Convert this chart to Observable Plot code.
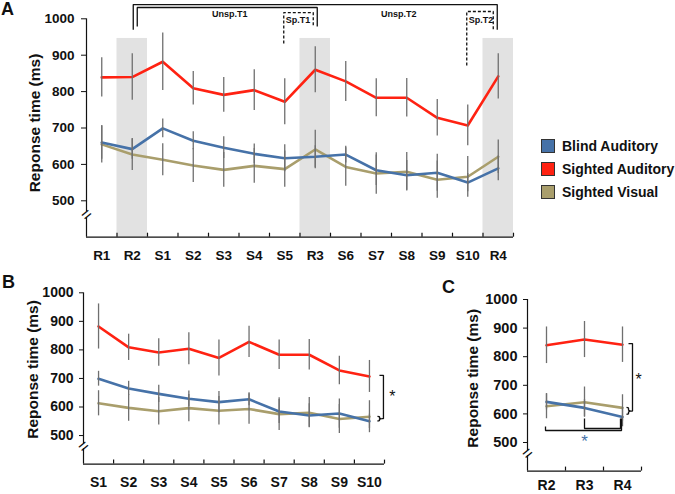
<!DOCTYPE html>
<html><head><meta charset="utf-8">
<script src="https://cdn.jsdelivr.net/npm/d3@7"></script>
<script src="https://cdn.jsdelivr.net/npm/@observablehq/plot@0.6"></script>
<style>
body{margin:0;background:#fff;font-family:"Liberation Sans",Arial,sans-serif;}
#root{position:relative;width:675px;height:494px;overflow:hidden;background:#fff;}
.panel{position:absolute;}
.letter{position:absolute;font-size:18px;line-height:18px;font-weight:bold;color:#111;}
#legend{position:absolute;left:541px;top:139px;}
.item{display:flex;align-items:center;height:14px;margin-bottom:9px;font-size:14px;font-weight:bold;color:#111;white-space:nowrap;}
.sw{width:12px;height:12px;border:1px solid #333;margin-right:7px;}
</style></head><body><div id="root"></div>
<script>
// ---------- data ----------
const conditions = ["R1","R2","S1","S2","S3","S4","S5","R3","S6","S7","S8","S9","S10","R4"];
const blindAuditory     = [660, 642, 699, 665, 646, 629, 617, 621, 627, 584, 570, 577, 550, 589];
const blindAuditorySE   = [ 46,  28,  26,  25,  30,  27,  37,  30,  23,  42,  41,  51,  25,  34];
const sightedAuditory   = [839, 840, 882, 809, 791, 804, 772, 860, 828, 783, 783, 728, 707, 842];
const sightedAuditorySE = [ 54,  64,  79,  46,  48,  56,  63,  63,  55,  52,  53,  50,  56,  62];
const sightedVisual     = [655, 627, 613, 597, 585, 596, 587, 641, 593, 575, 580, 558, 566, 621];
const sightedVisualSE   = [ 51,  44,  44,  47,  48,  48,  50,  53,  53,  57,  53,  51,  56,  46];
const seriesNames = ["Blind Auditory", "Sighted Auditory", "Sighted Visual"];
const seriesColors = ["#4672a8", "#ff2212", "#a99e6c"];
const yTicks = [500, 600, 700, 800, 900, 1000];
const panelBConds = ["S1","S2","S3","S4","S5","S6","S7","S8","S9","S10"];
const panelCConds = ["R2","R3","R4"];
const shadedConds = ["R2","R3","R4"];
const yTitle = "Reponse time (ms)";

const seriesValues = [blindAuditory, sightedAuditory, sightedVisual];
const seriesSE = [blindAuditorySE, sightedAuditorySE, sightedVisualSE];
const drawOrder = ["Sighted Visual", "Blind Auditory", "Sighted Auditory"];
const colorOf = Object.fromEntries(seriesNames.map((s, i) => [s, seriesColors[i]]));

function makeRows(conds) {
  return seriesNames.flatMap((s, si) => conds.map((c, i) => {
    const k = conditions.indexOf(c);
    return {series: s, cond: c, i, value: seriesValues[si][k], se: seriesSE[si][k]};
  }));
}

const FONT = '"Liberation Sans", Arial, sans-serif';
const INK = "#111";

function bracketPath(pts, dashed) {
  return Plot.line(pts, {x: d => d[0], y: d => d[1], stroke: INK, strokeWidth: 1.3,
    strokeLinejoin: "miter", strokeLinecap: "butt", strokeDasharray: dashed ? "3,2" : undefined, curve: "linear"});
}

function panel(o) {
  const n = o.conds.length;
  const step = (o.width - o.ml - o.mr) / n;
  const at = (c, px = 0) => o.conds.indexOf(c) + px / step;
  const rows = makeRows(o.conds);
  const bounds = d3.range(0.5, n, 1);
  const marks = [];
  if (o.shade) {
    marks.push(Plot.rect(shadedConds, {x1: c => at(c) - 0.5, x2: c => at(c) + 0.5, y1: 400, y2: o.shadeTop, fill: "#e2e2e2"}));
  }
  // axis lines
  marks.push(Plot.ruleY([400], {stroke: INK, strokeWidth: 1.2}));
  marks.push(Plot.ruleX([-0.5], {y1: 400, y2: 1000, stroke: INK, strokeWidth: 1.2}));
  // axis break
  marks.push(Plot.ruleX([-0.5], {y1: 454, y2: 470, stroke: "white", strokeWidth: 4}));
  marks.push(Plot.text(["="], {x: -0.5, y: 462, text: d => d, rotate: -40, fontSize: 17, fontWeight: "normal", fill: INK}));
  // boundary ticks on x axis (pointing up)
  marks.push(Plot.ruleX(bounds, {x: d => d, y1: 400, y2: 400, insetTop: -4, stroke: INK, strokeWidth: 1.2}));
  // lines
  for (const s of drawOrder) {
    marks.push(Plot.lineY(rows.filter(r => r.series === s), {x: "i", y: "value", stroke: colorOf[s], strokeWidth: 2.6}));
  }
  // error bars
  marks.push(Plot.ruleX(rows, {x: "i", y1: d => d.value - d.se, y2: d => d.value + d.se, stroke: "#6f6f6f", strokeWidth: 1.3}));
  // axes
  marks.push(Plot.axisY({ticks: yTicks, tickFormat: d3.format("d"), tickSize: o.yTickSize, tickPadding: o.yTickPad,
    fontSize: o.yFont, fontWeight: "bold", label: null, stroke: INK}));
  marks.push(Plot.axisX({ticks: d3.range(n), tickFormat: i => o.conds[i], tickSize: 0, tickPadding: o.xPad,
    fontSize: o.xFont, fontWeight: "bold", label: null}));
  // y title
  marks.push(Plot.text([yTitle], {frameAnchor: "left", text: d => d, rotate: -90, dx: o.titleDx, dy: o.titleDy,
    fontSize: 15.5, fontWeight: "bold", textAnchor: "middle", fill: INK}));
  if (o.extra) marks.push(...o.extra(at));
  const svg = Plot.plot({
    width: o.width, height: o.height,
    marginLeft: o.ml, marginRight: o.mr, marginTop: o.mt, marginBottom: o.mb,
    x: {domain: [-0.5, n - 0.5]},
    y: {domain: [400, 1000]},
    style: {fontFamily: FONT, fontSize: "13px", fontWeight: "bold", color: INK, background: "transparent", overflow: "visible"},
    marks
  });
  const div = document.createElement("div");
  div.className = "panel";
  div.style.left = o.left + "px";
  div.style.top = o.top + "px";
  div.appendChild(svg);
  return div;
}

// annotations for panel A (comparisons)
const bracketsA = [
  {label: "Unsp.T2", from: "R2", to: "R4", top: 1039, ends: [970, 970], dashed: false, over: ["R3", "R4"], labelY: 1014},
  {label: "Unsp.T1", from: "R2", to: "R3", top: 1031, ends: [979, 979], dashed: false, over: ["R2", "R3"], labelY: 1014},
  {label: "Sp.T1", from: "S5", to: "R3", top: 1017, ends: [932, 979], dashed: true, over: ["S5", "R3"], labelY: 996},
  {label: "Sp.T2", from: "S10", to: "R4", top: 1020, ends: [872, 968], dashed: true, over: ["S10", "R4"], labelY: 997}
];
const nudgeA = [[1, -1, -8], [5, 2, 6], [-1, -2, -2], [-1, -5, -2]];

const root = document.getElementById("root");

root.appendChild(panel({
  conds: conditions, left: 0, top: 0, width: 530, height: 270, ml: 86, mr: 17, mt: 18.3, mb: 33.3,
  yFont: 13.5, xFont: 13.5, yTickSize: 5, yTickPad: 7, xPad: 13.5, titleDx: -51, titleDy: -5,
  shade: true, shadeTop: 946,
  extra: (at) => bracketsA.flatMap((b, k) => {
    const [n1, n2, nl] = nudgeA[k];
    const x1 = at(b.from, n1), x2 = at(b.to, n2);
    const lx = (at(b.over[0]) + at(b.over[1])) / 2 + (at(b.over[0], nl) - at(b.over[0]));
    return [
      bracketPath([[x1, b.ends[0]], [x1, b.top], [x2, b.top], [x2, b.ends[1]]], b.dashed),
      Plot.text([b.label], {x: lx, y: b.labelY, text: d => d, fontSize: 9, fontWeight: "bold", fill: INK})
    ];
  })
}));

root.appendChild(panel({
  conds: panelBConds, left: 0, top: 270, width: 420, height: 224, ml: 83, mr: 36, mt: 22.3, mb: 30.4,
  yFont: 14, xFont: 14, yTickSize: 4, yTickPad: 6, xPad: 13.4, titleDx: -50, titleDy: -9,
  extra: (at) => [
    bracketPath([[at("S10", 10), 711], [at("S10", 14), 711], [at("S10", 14), 559], [at("S10", 12), 559]], false),
    bracketPath([[at("S10", 8), 567], [at("S10", 10), 566], [at("S10", 10), 561], [at("S10", 12), 559],
                 [at("S10", 10), 557], [at("S10", 10), 552], [at("S10", 8), 551]], false),
    Plot.text(["*"], {x: at("S10", 23), y: 648, text: d => d, dy: 4, fontSize: 16, fontWeight: "normal", fill: INK})
  ]
}));

root.appendChild(panel({
  conds: panelCConds, left: 420, top: 270, width: 255, height: 224, ml: 107, mr: 34, mt: 29, mb: 23.4,
  yFont: 14.5, xFont: 14, yTickSize: 4, yTickPad: 6, xPad: 8.5, titleDx: -54, titleDy: -7,
  extra: (at) => [
    bracketPath([[at("R4", 6), 846], [at("R4", 10), 846], [at("R4", 10), 610], [at("R4", 8), 610]], false),
    bracketPath([[at("R4", 4), 623], [at("R4", 6), 621], [at("R4", 6), 613], [at("R4", 8), 610],
                 [at("R4", 6), 607], [at("R4", 6), 600], [at("R4", 4), 598]], false),
    Plot.text(["*"], {x: at("R4", 16), y: 734, text: d => d, dy: 4, fontSize: 16, fontWeight: "normal", fill: INK}),
    bracketPath([[at("R2", -1), 556], [at("R2", -1), 542], [at("R4", -1), 542], [at("R4", -1), 584]], false),
    bracketPath([[at("R3"), 584], [at("R3"), 549], [at("R4", -2), 549], [at("R4", -2), 584]], false),
    Plot.text(["*"], {x: at("R3"), y: 517, text: d => d, dy: 4, fontSize: 17, fontWeight: "normal", fill: seriesColors[0]})
  ]
}));

// panel letters
for (const [t, l, tp] of [["A", 1, 0], ["B", 2, 273], ["C", 442, 278]]) {
  const d = document.createElement("div");
  d.className = "letter"; d.textContent = t;
  d.style.left = l + "px"; d.style.top = tp + "px";
  root.appendChild(d);
}

// legend
const legend = document.createElement("div");
legend.id = "legend";
seriesNames.forEach((s, i) => {
  const it = document.createElement("div");
  it.className = "item";
  const sw = document.createElement("span");
  sw.className = "sw"; sw.style.background = seriesColors[i];
  it.appendChild(sw);
  it.appendChild(document.createTextNode(s));
  legend.appendChild(it);
});
root.appendChild(legend);
</script></body></html>
